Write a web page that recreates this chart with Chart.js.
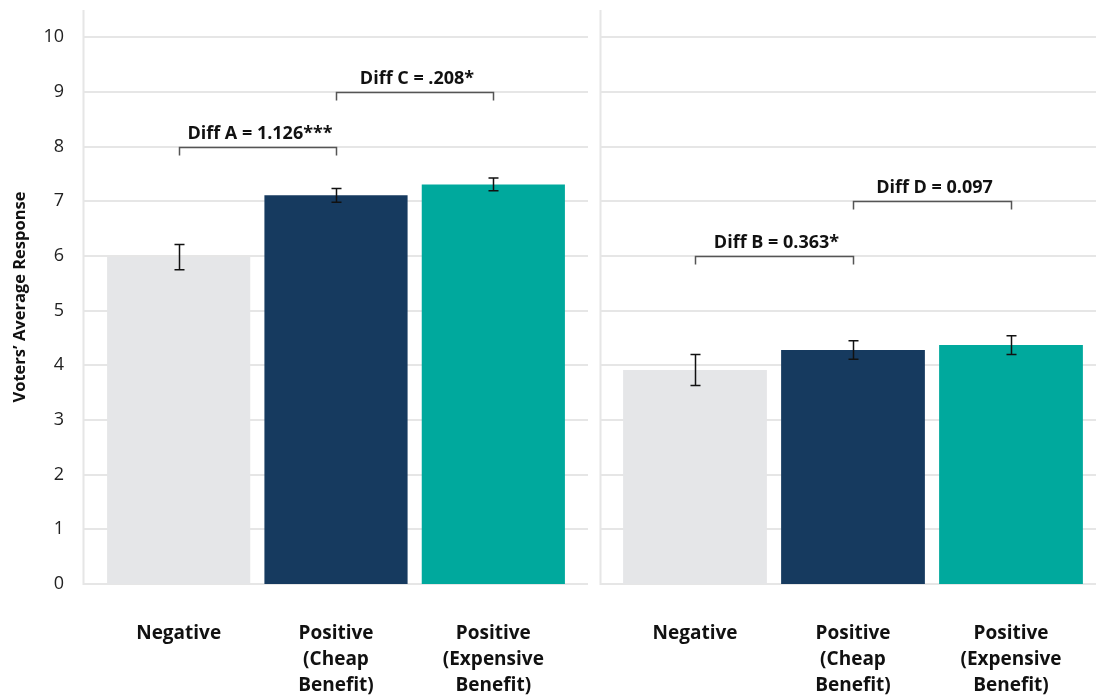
<!DOCTYPE html>
<html>
<head>
<meta charset="utf-8">
<script src="https://cdn.jsdelivr.net/npm/chart.js@4.4.0/dist/chart.umd.min.js"></script>
<style>
  html, body { margin: 0; padding: 0; background: #fff; }
  #wrap { position: relative; width: 1096px; height: 696px; }
  canvas { position: absolute; top: 0; }
  #left { left: 0; }
  #right { left: 596px; }
</style>
</head>
<body>
<div id="wrap">
  <canvas id="left" width="596" height="696"></canvas>
  <canvas id="right" width="500" height="696"></canvas>
</div>
<script>
// data
const categories = [['Negative'], ['Positive', '(Cheap', 'Benefit)'], ['Positive', '(Expensive', 'Benefit)']];
const leftMeans = [5.98, 7.11, 7.31];
const leftErrors = [0.23, 0.125, 0.115];
const rightMeans = [3.915, 4.28, 4.37];
const rightErrors = [0.285, 0.17, 0.17];
const yTicks = [0, 1, 2, 3, 4, 5, 6, 7, 8, 9, 10];
const leftBrackets = [
  { from: 0, to: 1, at: 8, label: 'Diff A = 1.126***' },
  { from: 1, to: 2, at: 9, label: 'Diff C = .208*' }
];
const rightBrackets = [
  { from: 0, to: 1, at: 6, label: 'Diff B = 0.363*' },
  { from: 1, to: 2, at: 7, label: 'Diff D = 0.097' }
];
const barColors = ['#e5e6e8', '#163a5f', '#00a99d'];

const FONT = "'Open Sans', sans-serif";

function extras(gridFrom, gridTo, errors, brackets) {
  return {
    id: 'extras',
    beforeDatasetsDraw(chart) {
      const { ctx, scales: { y } } = chart;
      ctx.save();
      ctx.strokeStyle = '#e6e6e6';
      ctx.lineWidth = 2;
      yTicks.forEach(v => {
        const py = Math.round(y.getPixelForValue(v));
        ctx.beginPath();
        ctx.moveTo(gridFrom, py);
        ctx.lineTo(gridTo, py);
        ctx.stroke();
      });
      // vertical axis line
      ctx.beginPath();
      ctx.moveTo(gridFrom, y.getPixelForValue(10.5));
      ctx.lineTo(gridFrom, y.getPixelForValue(0) + 1);
      ctx.stroke();
      ctx.restore();
    },
    afterDatasetsDraw(chart) {
      const { ctx, scales: { x, y } } = chart;
      const means = chart.data.datasets[0].data;
      ctx.save();
      // error bars
      ctx.strokeStyle = '#111';
      ctx.lineWidth = 1.5;
      means.forEach((m, i) => {
        const px = Math.round(x.getPixelForValue(i)) + 0.5;
        const top = y.getPixelForValue(m + errors[i]);
        const bot = y.getPixelForValue(m - errors[i]);
        ctx.beginPath();
        ctx.moveTo(px, top); ctx.lineTo(px, bot);
        ctx.moveTo(px - 5, top); ctx.lineTo(px + 5, top);
        ctx.moveTo(px - 5, bot); ctx.lineTo(px + 5, bot);
        ctx.stroke();
      });
      // brackets
      brackets.forEach(b => {
        const x1 = Math.round(x.getPixelForValue(b.from)) + 0.5;
        const x2 = Math.round(x.getPixelForValue(b.to)) + 0.5;
        const py = Math.round(y.getPixelForValue(b.at)) + 0.5;
        ctx.strokeStyle = '#555';
        ctx.lineWidth = 1.5;
        ctx.beginPath();
        ctx.moveTo(x1, py + 8);
        ctx.lineTo(x1, py);
        ctx.lineTo(x2, py);
        ctx.lineTo(x2, py + 8);
        ctx.stroke();
        ctx.fillStyle = '#111';
        ctx.font = 'bold 18px ' + FONT;
        ctx.textAlign = 'center';
        ctx.textBaseline = 'middle';
        ctx.fillText(b.label, (x1 + x2) / 2 + 2, py - 14);
      });
      ctx.restore();
    }
  };
}

function makeChart(id, means, errors, brackets, showY, padding, axisWidth, gridFrom, gridTo) {
  return new Chart(document.getElementById(id), {
    type: 'bar',
    data: {
      labels: categories,
      datasets: [{
        data: means,
        backgroundColor: barColors,
        borderWidth: 0,
        barPercentage: 0.91,
        categoryPercentage: 1
      }]
    },
    options: {
      responsive: false,
      devicePixelRatio: 1,
      animation: false,
      layout: { padding: padding },
      plugins: { legend: { display: false }, tooltip: { enabled: false } },
      scales: {
        x: {
          grid: { display: false, drawTicks: false },
          border: { display: false },
          ticks: {
            color: '#111',
            font: { family: FONT, size: 19, weight: 'bold', lineHeight: 1.36 },
            padding: 37,
            maxRotation: 0,
            autoSkip: false
          },
          afterFit(s) { s.height = 112; s.paddingLeft = 0; s.paddingRight = 0; }
        },
        y: {
          min: 0,
          max: 10.5,
          grid: { display: false, drawTicks: false },
          border: { display: false },
          ticks: {
            display: showY,
            stepSize: 1,
            color: '#222',
            font: { family: FONT, size: 18 },
            padding: 36
          },
          afterBuildTicks(s) { s.ticks = s.ticks.filter(t => Number.isInteger(t.value)); },
          title: {
            display: showY,
            text: 'Voters’ Average Response',
            color: '#111',
            font: { family: FONT, size: 16.5, weight: 'bold' },
            padding: { top: 10, bottom: 0 }
          },
          afterFit(s) { s.width = axisWidth; s.paddingTop = 0; s.paddingBottom = 0; }
        }
      }
    },
    plugins: [extras(gridFrom, gridTo, errors, brackets)]
  });
}

makeChart('left', leftMeans, leftErrors, leftBrackets, true,
  { left: 0, right: 24, top: 10, bottom: 0 }, 100, 83.5, 588);
makeChart('right', rightMeans, rightErrors, rightBrackets, false,
  { left: 0, right: 6, top: 10, bottom: 0 }, 20, 4.5, 500);
</script>
</body>
</html>
